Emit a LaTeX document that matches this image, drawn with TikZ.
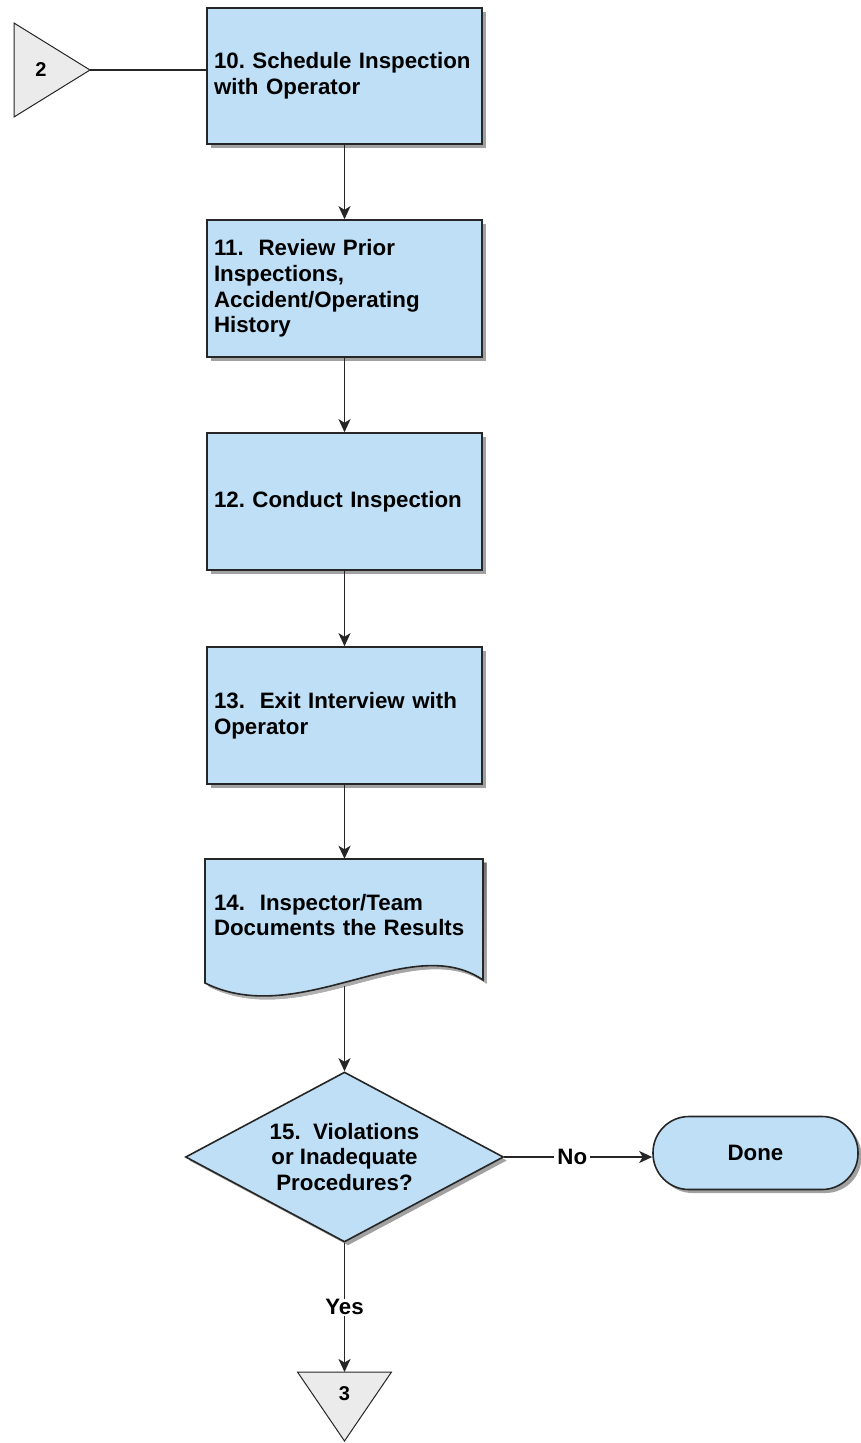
\documentclass[tikz,border=0pt]{standalone}
\usepackage{fontspec}
\setmainfont{Liberation Sans}
\usetikzlibrary{shapes.geometric, shadows, arrows.meta}
\definecolor{boxfill}{HTML}{BEDFF5}
\definecolor{edge}{HTML}{262626}
\definecolor{trifill}{HTML}{EBEBEB}
\definecolor{shade}{HTML}{6E6E6E}
\frenchspacing
\hyphenpenalty=10000
\begin{document}
\begin{tikzpicture}[x=1pt,y=-1pt,
  txt/.style={font=\bfseries\fontsize{22.3}{25.8}\selectfont},
  smalltxt/.style={font=\bfseries\fontsize{20}{22}\selectfont},
  shad/.style={drop shadow={shadow xshift=3.5pt, shadow yshift=-3.5pt, fill=shade, opacity=0.65}},
  procbox/.style={rectangle, draw=edge, line width=1.6pt, fill=boxfill, minimum height=136pt, text width=261pt, inner xsep=7pt, align=left, txt, shad},
  conn/.style={draw=edge, line width=1.7pt},
  arr/.style={conn, -{Stealth[length=13pt,width=12pt,inset=3.5pt]}},
  lbl/.style={fill=white, inner xsep=3pt, inner ysep=1pt, txt},
  ]
\useasboundingbox (0,0) rectangle (860,1443);

% connector 2
\filldraw[fill=trifill, draw=edge, line width=1pt] (14,23) -- (90,70) -- (14,117) -- cycle;
\node[smalltxt] (t2) at (41,70) {2};
\coordinate (t2tip) at (90,70);

% process boxes
\node[procbox] (b10) at (344.5,76) {10. Schedule Inspection\\with Operator};
\node[procbox, minimum height=137pt] (b11) at (344.5,288.5) {11.\ \ Review Prior\\Inspections,\\Accident/Operating\\History};
\node[procbox, minimum height=137pt] (b12) at (344.5,501.5) {12. Conduct Inspection};
\node[procbox, minimum height=137pt] (b13) at (344.5,715.5) {13.\ \ Exit Interview with\\Operator};

% document shape 14
\fill[shade, opacity=0.65, shift={(3.5,3.5)}] (205,859) -- (483,859) -- (483,980) .. controls (410,930) and (300,1030) .. (205,983) -- cycle;
\filldraw[fill=boxfill, draw=edge, line width=1.6pt] (205,859) -- (483,859) -- (483,980) .. controls (410,930) and (300,1030) .. (205,983) -- cycle;
\node[rectangle, minimum height=112pt, text width=261pt, inner xsep=7pt, inner ysep=0pt, align=left, txt] (b14) at (344.5,915) {14.\ \ Inspector/Team\\Documents the Results};
\coordinate (b14out) at (344.5,986);

% decision
\node[diamond, draw=edge, line width=1.6pt, fill=boxfill, aspect=1.87, minimum width=318pt, minimum height=170pt, inner sep=0pt, align=center, txt, shad] (dia) at (344.5,1157) {15.\ \ Violations\\or Inadequate\\Procedures?};

% terminal
\node[rectangle, rounded corners=36pt, draw=edge, line width=1.6pt, fill=boxfill, minimum width=205pt, minimum height=73pt, txt, shad] (done) at (755.5,1153) {Done};

% connector 3
\filldraw[fill=trifill, draw=edge, line width=1pt] (297.5,1372) -- (391.5,1372) -- (344.5,1441) -- cycle;
\node[smalltxt] (t3) at (344.5,1394) {3};
\coordinate (t3top) at (344.5,1372);

% connectors
\draw[conn] (t2tip) -- (t2tip -| b10.west);
\draw[arr] (b10.south) -- (b11.north);
\draw[arr] (b11.south) -- (b12.north);
\draw[arr] (b12.south) -- (b13.north);
\draw[arr] (b13.south) -- (b14.north);
\draw[arr] (b14out) -- (dia.north);
\draw[arr] (dia.east) -- node[lbl, pos=0.46] {No} (dia.east -| done.west);
\draw[arr] (dia.south) -- node[lbl, pos=0.5] {Yes} (t3top);
\end{tikzpicture}
\end{document}
